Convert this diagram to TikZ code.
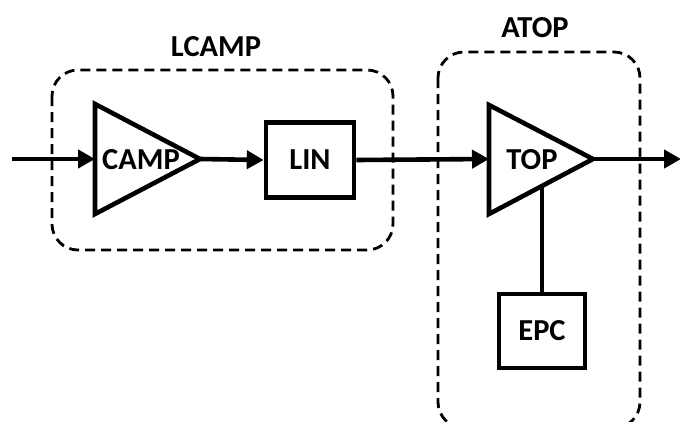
\documentclass[tikz,border=0pt]{standalone}
\usepackage{fontspec}
\setmainfont{Carlito}
\usetikzlibrary{arrows.meta}
\begin{document}
\begin{tikzpicture}[x=1pt,y=-1pt,
  lbl/.style={font=\fontsize{30.5}{33}\selectfont\bfseries, inner sep=0pt},
  solidline/.style={line width=4.6pt, line join=miter},
  arr/.style={line width=4.6pt, -{Triangle[length=17pt,width=18pt]}},
  grp/.style={line width=2.8pt, dash pattern=on 10pt off 6pt, rounded corners=26pt}]
\clip (0,0) rectangle (680,421);
\useasboundingbox (0,0) rectangle (680,421);
% group boxes
\draw[grp] (52,70) rectangle (393,250);
\draw[grp] (438,52) rectangle (640,428);
\node[lbl] (lcamp) at (216,47) {LCAMP};
\node[lbl] (atop) at (535,28) {ATOP};
% CAMP amplifier
\coordinate (campin) at (95,159);
\coordinate (campout) at (200,159);
\draw[solidline] (95,104) -- (95,214) -- (campout) -- cycle;
\node[lbl] (camp) at (141,160) {CAMP};
% LIN box
\node[draw, line width=4.6pt, minimum width=88pt, minimum height=75pt, inner sep=0pt, lbl] (lin) at (310,160) {LIN};
% TOP amplifier
\coordinate (topin) at (489,159);
\coordinate (topout) at (593,159);
\coordinate (topbot) at (542,187);
\draw[solidline] (489,105) -- (489,214) -- (topout) -- cycle;
\node[lbl] (top) at (532,160) {TOP};
% EPC box
\node[draw, line width=4.6pt, minimum width=86pt, minimum height=74pt, inner sep=0pt, lbl] (epc) at (542,331) {EPC};
% connectors
\coordinate (start) at (12,159);
\coordinate (finish) at (681,159);
\draw[arr] (start) -- (campin);
\draw[arr] (campout) -- (lin.west);
\draw[arr] (lin.east) -- (topin);
\draw[arr] (topout) -- (finish);
\draw[solidline] (topbot) -- (epc.north);
\end{tikzpicture}
\end{document}
